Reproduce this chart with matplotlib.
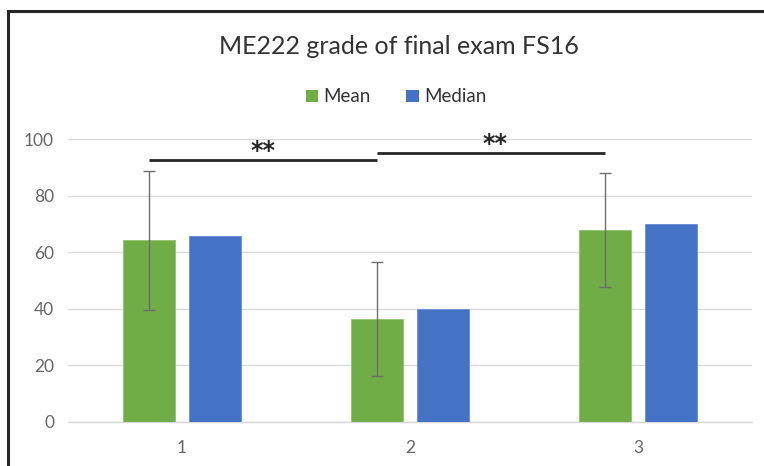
import matplotlib
matplotlib.use("Agg")
import matplotlib.pyplot as plt
from matplotlib.lines import Line2D
from matplotlib.patches import Patch
import numpy as np

plt.rcParams['font.family'] = ['Lato', 'DejaVu Sans']

# Data
categories = ["1", "2", "3"]
mean_values = [64.2, 36.5, 67.9]
median_values = [65.8, 40.0, 70.1]
mean_errors = [24.6, 20.1, 20.2]
y_ticks = [0, 20, 40, 60, 80, 100]
sig_labels = ["**", "**"]
sig_heights = [92.6, 95.2]

GREEN = "#70AD47"
BLUE = "#4472C4"
GRID = "#D9D9D9"
TICK = "#666666"

W, H = 764, 466
fig = plt.figure(figsize=(W / 100, H / 100), dpi=100)

# Axes placed in pixel units
ax_left, ax_right, ax_bottom, ax_top = 68, 752, 422, 139
ax = fig.add_axes([ax_left / W, (H - ax_bottom) / H,
                   (ax_right - ax_left) / W, (ax_bottom - ax_top) / H])

x = np.arange(1, len(categories) + 1)
bar_w = 0.228
offset = 0.143

ax.bar(x - offset, mean_values, bar_w, color=GREEN, edgecolor="#8CC26A",
       linewidth=0.6, zorder=3)
ax.bar(x + offset, median_values, bar_w, color=BLUE, edgecolor="#6A8FD6",
       linewidth=0.6, zorder=3)
ax.errorbar(x - offset, mean_values, yerr=mean_errors, fmt="none",
            ecolor="#6E6E6E", elinewidth=1.0, capsize=4, capthick=1.0, zorder=4)

# Significance brackets between mean bars
mean_pos = x - offset
for i, (lab, h) in enumerate(zip(sig_labels, sig_heights)):
    x0, x1 = mean_pos[i], mean_pos[i + 1]
    ax.plot([x0, x1], [h, h], color="#262626", lw=2.0, zorder=5,
            solid_capstyle="butt", clip_on=False)
    ax.text((x0 + x1) / 2 + (0.0 if i == 0 else 0.015), h + 3.2, lab,
            ha="center", va="center", fontsize=17, fontweight="bold",
            color="#262626", family="DejaVu Sans", zorder=5)

ax.set_xlim(0.5, len(categories) + 0.5)
ax.set_ylim(0, 100)
ax.set_yticks(y_ticks)
ax.set_xticks(x)
ax.set_xticklabels(categories)
ax.yaxis.grid(True, color=GRID, lw=1.0, zorder=0)
ax.set_axisbelow(True)
for s in ["top", "right", "left"]:
    ax.spines[s].set_visible(False)
ax.spines["bottom"].set_color(GRID)
ax.spines["bottom"].set_linewidth(1.0)
ax.tick_params(axis="both", length=0, colors=TICK, labelsize=12.5)
ax.tick_params(axis="y", pad=10)
ax.tick_params(axis="x", pad=13)

# Title and legend
fig.text(399 / W, 1 - 46 / H, "ME222 grade of final exam FS16",
         ha="center", va="center", fontsize=18, color="#333333")
handles = [Patch(facecolor=GREEN, edgecolor="none", label="Mean"),
           Patch(facecolor=BLUE, edgecolor="none", label="Median")]
fig.legend(handles=handles, loc="center", bbox_to_anchor=(396 / W, 1 - 97 / H),
           ncol=2, frameon=False, fontsize=13.5, handlelength=0.65,
           handleheight=0.65, handletextpad=0.3, columnspacing=1.9,
           labelcolor="#333333")

# Frame edges along the left and top
fig.add_artist(Line2D([8 / W, 8 / W], [0, 1 - 11 / H], transform=fig.transFigure,
                      color="#262626", lw=2.2))
fig.add_artist(Line2D([8 / W, 1], [1 - 11 / H, 1 - 11 / H], transform=fig.transFigure,
                      color="#262626", lw=2.2))

fig.savefig("out.png", dpi=100)
